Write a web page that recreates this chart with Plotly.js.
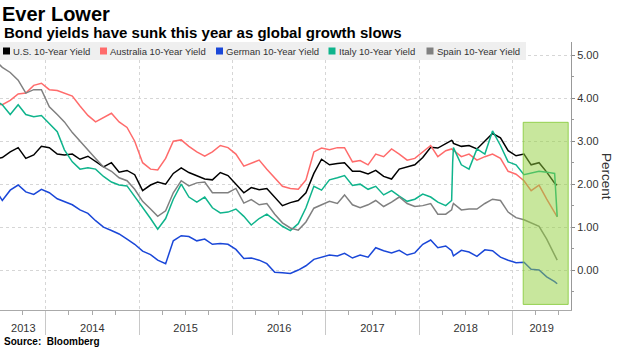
<!DOCTYPE html>
<html>
<head>
<meta charset="utf-8">
<script src="https://cdn.plot.ly/plotly-3.0.1.min.js"></script>
<style>html,body{margin:0;padding:0;background:#fff;}#chart{width:620px;height:348px;}</style>
</head>
<body>
<div id="chart"></div>
<script>
// ---- data ----
const dates = [
"2013-07-01",
"2013-07-15","2013-08-15","2013-09-15","2013-10-15","2013-11-15","2013-12-15",
"2014-01-15","2014-02-15","2014-03-15","2014-04-15","2014-05-15","2014-06-15","2014-07-15","2014-08-15","2014-09-15","2014-10-15","2014-11-15","2014-12-15",
"2015-01-15","2015-02-15","2015-03-15","2015-04-15","2015-05-15","2015-06-15","2015-07-15","2015-08-15","2015-09-15","2015-10-15","2015-11-15","2015-12-15",
"2016-01-15","2016-02-15","2016-03-15","2016-04-15","2016-05-15","2016-06-15","2016-07-15","2016-08-15","2016-09-15","2016-10-15","2016-11-15","2016-12-15",
"2017-01-15","2017-02-15","2017-03-15","2017-04-15","2017-05-15","2017-06-15","2017-07-15","2017-08-15","2017-09-15","2017-10-15","2017-11-15","2017-12-15",
"2018-01-15","2018-02-15","2018-03-15","2018-04-15","2018-05-08","2018-05-12",
"2018-05-15","2018-06-15","2018-07-15","2018-08-15","2018-09-15","2018-10-15","2018-11-15","2018-12-15",
"2019-01-15","2019-02-15","2019-03-15","2019-04-15","2019-05-15","2019-06-15","2019-06-25"
];
const usYield = [2.6,
2.62,2.75,2.85,2.6,2.68,2.88,2.85,2.7,2.68,2.7,2.58,2.65,
2.52,2.4,2.5,2.28,2.32,2.22,1.85,1.98,2.05,2.0,2.25,2.38,
2.27,2.2,2.12,2.1,2.27,2.2,2.0,1.8,1.92,1.87,1.9,1.7,
1.5,1.57,1.62,1.8,2.25,2.58,2.45,2.48,2.5,2.3,2.3,2.24,
2.32,2.18,2.12,2.35,2.4,2.45,2.62,2.86,2.84,2.95,
3.02,3.0,
2.95,2.88,2.9,2.82,3.0,3.18,3.08,2.78,2.66,2.7,2.45,2.5,2.28,2.02,
1.98];
const australiaYield = [3.86,
3.85,3.95,4.1,4.12,4.3,4.35,4.2,4.18,4.12,4.05,3.82,3.6,
3.45,3.55,3.65,3.45,3.32,3.0,2.5,2.35,2.33,2.6,3.0,3.03,
2.88,2.75,2.65,2.75,2.9,2.85,2.7,2.42,2.48,2.56,2.35,2.15,
1.95,1.9,1.88,2.1,2.75,2.84,2.8,2.85,2.85,2.52,2.55,2.45,
2.7,2.64,2.82,2.7,2.56,2.6,2.75,2.9,2.64,2.78,
2.82,2.8,
2.8,2.64,2.7,2.56,2.64,2.7,2.6,2.3,2.23,2.08,1.85,1.98,1.65,1.35,
1.24];
const germanYield = [1.75,
1.62,1.86,1.98,1.82,1.76,1.88,1.8,1.66,1.6,1.52,1.4,1.32,
1.15,1.0,0.92,0.84,0.72,0.6,0.44,0.36,0.23,0.15,0.68,0.8,
0.78,0.68,0.72,0.6,0.62,0.6,0.48,0.27,0.28,0.23,0.15,-0.05,
-0.06,-0.08,0.0,0.1,0.25,0.3,0.35,0.33,0.39,0.28,0.35,0.3,
0.52,0.45,0.4,0.46,0.35,0.4,0.6,0.7,0.52,0.56,
0.45,0.38,
0.33,0.46,0.42,0.32,0.47,0.45,0.3,0.23,0.17,0.18,0.02,0.0,-0.16,-0.27,
-0.32];
const italyYield = [3.9,
3.85,3.62,3.85,3.62,3.57,3.6,3.42,3.22,2.8,2.52,2.35,2.38,
2.35,2.18,2.05,1.98,1.96,1.72,1.46,1.2,0.95,1.2,1.65,2.0,
1.7,1.58,1.7,1.45,1.33,1.35,1.42,1.25,1.05,1.2,1.3,1.15,
1.02,0.92,1.08,1.45,1.95,1.86,2.1,2.15,2.2,1.97,2.0,1.88,
1.95,1.75,1.85,1.72,1.6,1.65,1.77,1.7,1.58,1.5,
1.62,2.5,
2.85,2.45,2.35,2.82,2.7,3.24,2.9,2.52,2.45,2.22,2.25,2.3,2.28,2.25,
1.24];
const spainYield = [4.8,
4.72,4.6,4.42,4.12,4.2,4.2,3.8,3.62,3.45,3.2,3.0,2.78,
2.6,2.4,2.3,2.15,2.08,1.88,1.6,1.42,1.25,1.38,1.8,2.08,
1.96,2.03,2.05,1.8,1.8,1.8,1.9,1.56,1.64,1.52,1.55,1.3,
1.1,0.98,0.93,1.12,1.44,1.52,1.6,1.55,1.75,1.52,1.45,1.52,
1.62,1.48,1.58,1.7,1.55,1.48,1.5,1.55,1.3,1.3,
1.4,1.5,
1.55,1.4,1.42,1.42,1.55,1.65,1.62,1.35,1.22,1.17,1.1,1.02,0.72,0.35,
0.23];
const seriesNames = ["U.S. 10-Year Yield","Australia 10-Year Yield","German 10-Year Yield","Italy 10-Year Yield","Spain 10-Year Yield"];
const yearLabels = ["2013","2014","2015","2016","2017","2018","2019"];
const yearLabelDates = ["2013-10-05","2014-07-02","2015-07-02","2016-07-02","2017-07-02","2018-07-02","2019-04-25"];
const yieldTicks = [0,1,2,3,4,5];
const highlightStart = "2019-02-12", highlightEnd = "2019-08-07";
const highlightLow = -0.8, highlightHigh = 3.44;

// ---- styling ----
const colors = ["#000000","#ff6b6b","#1a47d8","#0fb48c","#808080"];
const W = 620, H = 348, ML = 0, MR = 49, MT = 42, MB = 38;
const PW = W - ML - MR, PH = H - MT - MB;
const px = x => (x - ML) / PW;
const py = y => (H - MB - y) / PH;
const FONT = "Liberation Sans, Arial, sans-serif";
const xRange = ["2013-07-06", "2019-08-18"];

const allSeries = [usYield, australiaYield, germanYield, italyYield, spainYield];
const traces = allSeries.map((vals, i) => ({
  type: "scatter", mode: "lines", x: dates, y: vals, name: seriesNames[i],
  line: {color: colors[i], width: 1.5}, showlegend: false, hoverinfo: "skip"
}));
traces.push({type:"scatter", mode:"none", x: yearLabelDates, y: yearLabelDates.map(() => null), xaxis: "x2", yaxis: "y", showlegend:false, hoverinfo:"skip"});

const shapes = [
  {type:"rect", xref:"x", yref:"y", x0: highlightStart, x1: highlightEnd, y0: highlightLow, y1: highlightHigh,
   fillcolor:"rgba(145,208,60,0.5)", line:{color:"rgba(130,200,50,0.8)", width:1}, layer:"above"},
  {type:"rect", xref:"paper", yref:"paper", x0: px(0), x1: px(526), y0: py(60), y1: py(42),
   fillcolor:"#efefef", line:{width:0}, layer:"above"}
];
const legendSquareX = [6.5, 103.5, 219.5, 332, 430];
const annotations = [
  {xref:"paper", yref:"paper", x: px(2), y: py(32), xanchor:"left", yanchor:"middle", showarrow:false,
   text:"<b>Bond yields have sunk this year as global growth slows</b>", font:{family:FONT, size:15, color:"#000"}},
  {xref:"paper", yref:"paper", x: px(2), y: py(341), xanchor:"left", yanchor:"middle", showarrow:false,
   text:"<b>Source:  Bloomberg</b>", font:{family:FONT, size:10, color:"#000"}},
  {xref:"paper", yref:"paper", x: px(607), y: py(176), xanchor:"center", yanchor:"middle", showarrow:false,
   text:"Percent", textangle: 90, font:{family:FONT, size:13.5, color:"#333"}}
];
seriesNames.forEach((n, i) => {
  const cx = legendSquareX[i];
  shapes.push({type:"rect", xref:"paper", yref:"paper", x0: px(cx-3.5), x1: px(cx+3.5), y0: py(54.5), y1: py(47.5),
    fillcolor: colors[i], line:{width:0}, layer:"above"});
  annotations.push({xref:"paper", yref:"paper", x: px(cx+4.5), y: py(51), xanchor:"left", yanchor:"middle",
    showarrow:false, text:n, font:{family:FONT, size:9.5, color:"#333"}});
});

const layout = {
  width: W, height: H, margin:{l:ML, r:MR, t:MT, b:MB, pad:0},
  paper_bgcolor:"#fff", plot_bgcolor:"#fff",
  title:{text:"<b>Ever Lower</b>", x: 2/W, xanchor:"left", xref:"container", y: 1 - 14/H, yanchor:"middle", yref:"container",
         font:{family:FONT, size:20, color:"#000"}},
  showlegend:false,
  xaxis:{type:"date", range: xRange, tickmode:"linear", tick0:"2013-01-01", dtick:"M12",
    showticklabels:false, ticks:"outside", ticklen:24, tickcolor:"#c8c8c8", tickwidth:1,
    showgrid:true, gridcolor:"#d6d6d6", griddash:"dot", gridwidth:1,
    showline:true, linecolor:"#aaaaaa", linewidth:1, zeroline:false,
    minor:{dtick:"M3", tick0:"2013-01-01", ticks:"outside", ticklen:4, tickcolor:"#aaaaaa", showgrid:false}},
  xaxis2:{type:"date", overlaying:"x", matches:"x", side:"bottom", anchor:"y", range: xRange,
    tickmode:"array", tickvals: yearLabelDates, ticktext: yearLabels, ticks:"", showgrid:false, showline:false, zeroline:false,
    tickfont:{family:FONT, size:11, color:"#333"}, ticklabelstandoff: 10},
  yaxis:{side:"right", range:[-0.93, 5.31], tickmode:"array", tickvals: yieldTicks, tickformat:".2f",
    ticks:"outside", ticklen:3, tickcolor:"#888", showline:true, linecolor:"#999", linewidth:1,
    showgrid:true, gridcolor:"#d6d6d6", griddash:"dot", zeroline:false,
    tickfont:{family:FONT, size:11, color:"#333"},
    minor:{dtick:0.5, ticks:"outside", ticklen:2, tickcolor:"#999", showgrid:false}},
  shapes: shapes, annotations: annotations
};
Plotly.newPlot("chart", traces, layout, {staticPlot:true, displayModeBar:false});
</script>
</body>
</html>
